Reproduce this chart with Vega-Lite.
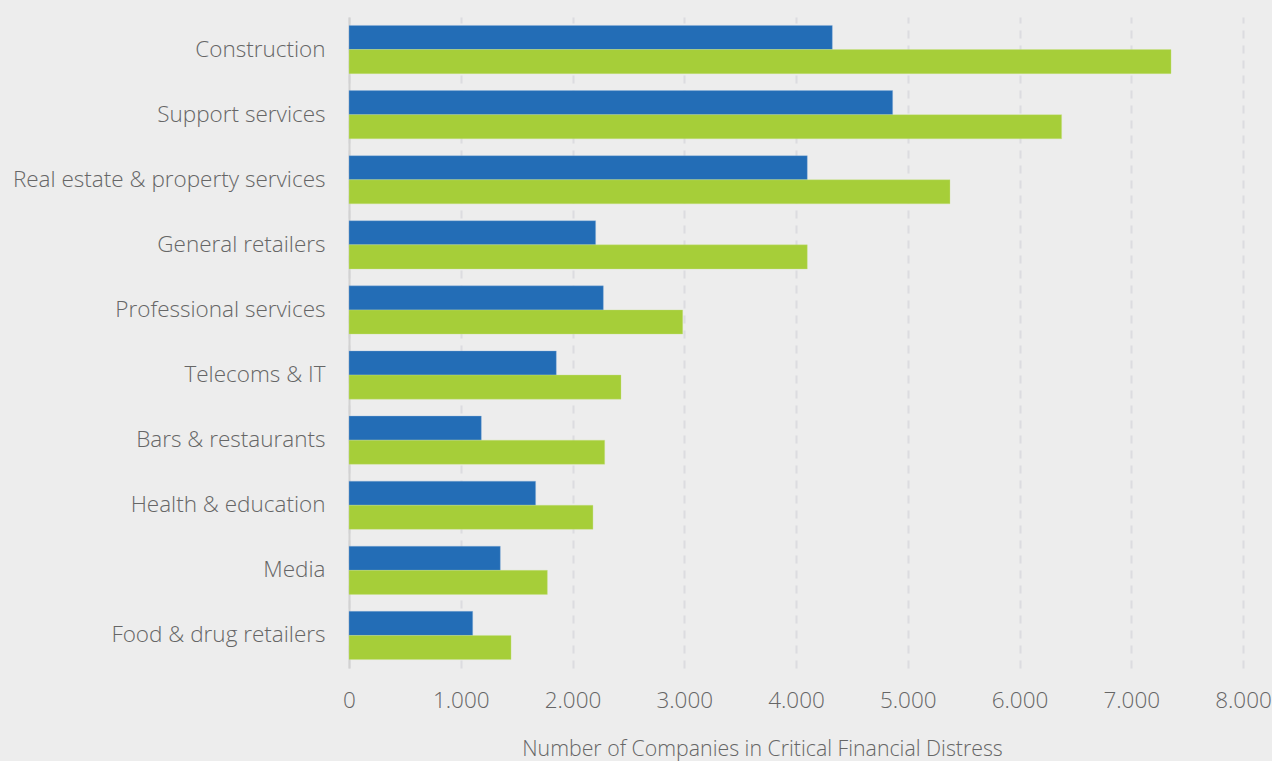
{
  "$schema": "https://vega.github.io/schema/vega-lite/v6.json",
  "autosize": "none",
  "width": 894,
  "height": 651,
  "padding": {"left": 349, "top": 17, "right": 29, "bottom": 93},
  "background": "#ededed",
  "config": {
    "view": {"stroke": null},
    "font": "Open Sans"
  },
  "data": {
    "values": [
      {"sector": "Construction", "series": "A", "companies": 4325},
      {"sector": "Construction", "series": "B", "companies": 7356},
      {"sector": "Support services", "series": "A", "companies": 4865},
      {"sector": "Support services", "series": "B", "companies": 6377},
      {"sector": "Real estate & property services", "series": "A", "companies": 4101},
      {"sector": "Real estate & property services", "series": "B", "companies": 5378},
      {"sector": "General retailers", "series": "A", "companies": 2207},
      {"sector": "General retailers", "series": "B", "companies": 4101},
      {"sector": "Professional services", "series": "A", "companies": 2276},
      {"sector": "Professional services", "series": "B", "companies": 2986},
      {"sector": "Telecoms & IT", "series": "A", "companies": 1855},
      {"sector": "Telecoms & IT", "series": "B", "companies": 2434},
      {"sector": "Bars & restaurants", "series": "A", "companies": 1184},
      {"sector": "Bars & restaurants", "series": "B", "companies": 2288},
      {"sector": "Health & education", "series": "A", "companies": 1670},
      {"sector": "Health & education", "series": "B", "companies": 2183},
      {"sector": "Media", "series": "A", "companies": 1354},
      {"sector": "Media", "series": "B", "companies": 1775},
      {"sector": "Food & drug retailers", "series": "A", "companies": 1107},
      {"sector": "Food & drug retailers", "series": "B", "companies": 1450}
    ]
  },
  "mark": {"type": "bar", "strokeWidth": 1, "strokeOpacity": 0.35},
  "encoding": {
    "y": {
      "field": "sector",
      "type": "nominal",
      "sort": null,
      "scale": {"paddingInner": 0.26, "paddingOuter": 0.13},
      "axis": {
        "title": null,
        "ticks": false,
        "labelPadding": 24,
        "labelFontSize": 22.5,
        "labelFontWeight": 300,
        "labelLimit": 400,
        "labelColor": "#666666",
        "domain": true,
        "domainColor": "#d2d2d2",
        "domainWidth": 2,
        "grid": false
      }
    },
    "yOffset": {"field": "series", "type": "nominal", "sort": ["A", "B"]},
    "x": {
      "field": "companies",
      "type": "quantitative",
      "scale": {"domain": [0, 8000], "nice": false},
      "axis": {
        "title": "Number of Companies in Critical Financial Distress",
        "titleFontSize": 21.3,
        "titleFontWeight": 300,
        "titleColor": "#666666",
        "titleX": 413,
        "titleY": 81,
        "titleBaseline": "middle",
        "titleAnchor": "middle",
        "values": [0, 1000, 2000, 3000, 4000, 5000, 6000, 7000, 8000],
        "labelExpr": "replace(format(datum.value, ','), ',', '.')",
        "labelFontSize": 22.5,
        "labelFontWeight": 300,
        "labelColor": "#666666",
        "labelFlush": false,
        "labelPadding": 32,
        "labelBaseline": "middle",
        "ticks": false,
        "domain": false,
        "grid": true,
        "gridColor": "#dcdce0",
        "gridWidth": 2,
        "gridDash": [8, 7]
      }
    },
    "color": {
      "field": "series",
      "type": "nominal",
      "scale": {"domain": ["A", "B"], "range": ["#236db6", "#a6ce39"]},
      "legend": null
    },
    "stroke": {
      "field": "series",
      "type": "nominal",
      "scale": {"domain": ["A", "B"], "range": ["#8fb4dc", "#c9e38a"]},
      "legend": null
    }
  }
}
